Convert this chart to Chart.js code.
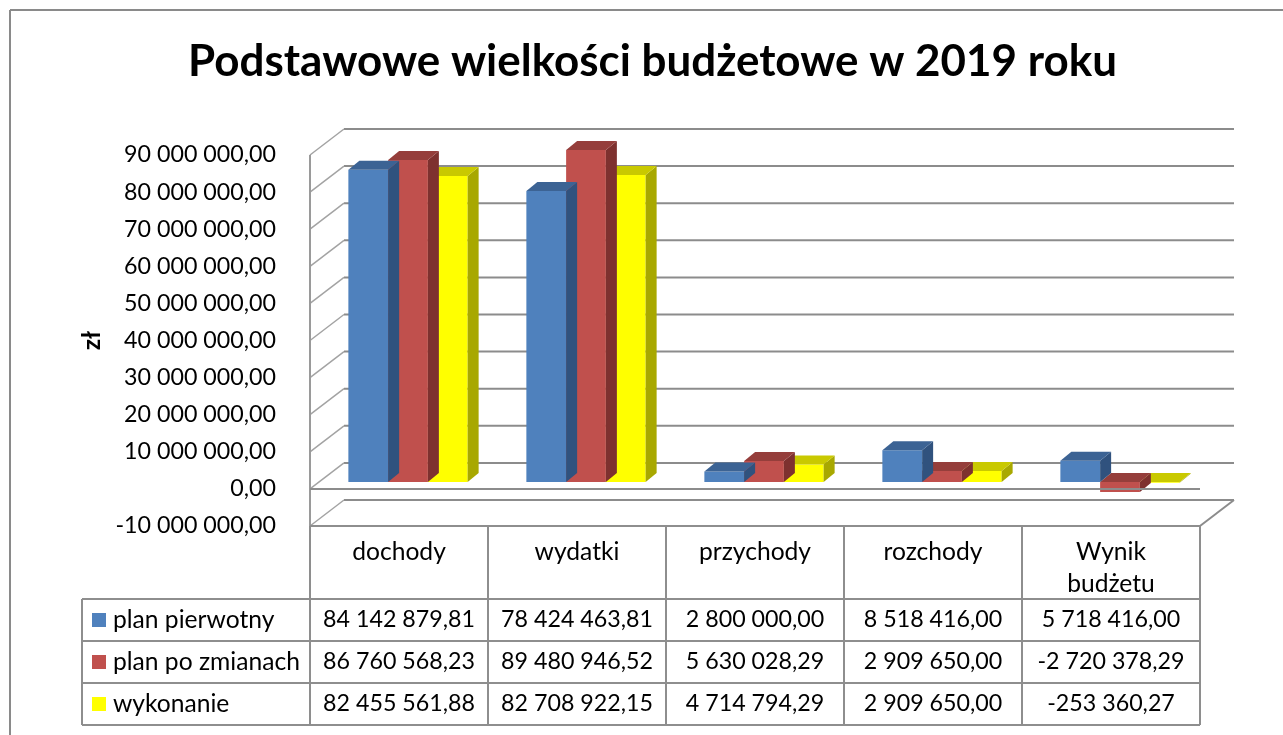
<!DOCTYPE html>
<html><head><meta charset="utf-8">
<script src="https://cdn.jsdelivr.net/npm/chart.js@4.4.1/dist/chart.umd.min.js"></script>
<style>html,body{margin:0;padding:0;background:#fff;overflow:hidden}#wrap{position:relative;width:1283px;height:735px}</style>
</head><body><div id="wrap"><canvas id="c" width="1283" height="735"></canvas></div>
<script>
// ---------- data ----------
const categories = ['dochody', 'wydatki', 'przychody', 'rozchody', 'Wynik budżetu'];
const categoryLines = [['dochody'], ['wydatki'], ['przychody'], ['rozchody'], ['Wynik', 'budżetu']];
const seriesNames = ['plan pierwotny', 'plan po zmianach', 'wykonanie'];
const planPierwotny = [84142879.81, 78424463.81, 2800000.00, 8518416.00, 5718416.00];
const planPoZmianach = [86760568.23, 89480946.52, 5630028.29, 2909650.00, -2720378.29];
const wykonanie = [82455561.88, 82708922.15, 4714794.29, 2909650.00, -253360.27];
const yTickValues = [-10000000, 0, 10000000, 20000000, 30000000, 40000000, 50000000, 60000000, 70000000, 80000000, 90000000];
const chartTitle = 'Podstawowe wielkości budżetowe w 2019 roku';
const yAxisTitle = 'zł';

// ---------- styles ----------
const FAMILY = "Lato, 'Open Sans', sans-serif";
const frontColors = ['#4F81BD', '#C0504D', '#FFFF00'];
const topColors = ['#3C6394', '#953E3B', '#C9C900'];
const sideColors = ['#30527E', '#7E312F', '#A8A800'];
const GRID = '#8c8c8c';
const FRONT = { dx: -9, dy: 7 };   // front plane offset from bar plane
const BACK = { dx: 25, dy: -19 };  // back plane offset from bar plane
const BAR_D = { dx: 11, dy: 9 };   // bar depth

const mctx = document.createElement('canvas').getContext('2d');
function fitSize(text, weight, target) {
  mctx.font = weight + ' 100px ' + FAMILY;
  return target * 100 / mctx.measureText(text).width;
}
const titleSize = fitSize(chartTitle, 'bold', 929);
const textSize = fitSize('90 000 000,00', 'normal', 152);
const wordSize = fitSize('plan po zmianach', 'normal', 187);

function fmt(v) {
  const neg = v < 0;
  let [i, d] = Math.abs(v).toFixed(2).split('.');
  i = i.replace(/\B(?=(\d{3})+(?!\d))/g, ' ');
  return (neg ? '-' : '') + i + ',' + d;
}

const seriesData = [planPierwotny, planPoZmianach, wykonanie];

function poly(ctx, pts, fill) {
  ctx.beginPath();
  ctx.moveTo(pts[0][0], pts[0][1]);
  for (let k = 1; k < pts.length; k++) ctx.lineTo(pts[k][0], pts[k][1]);
  ctx.closePath();
  ctx.fillStyle = fill;
  ctx.fill();
}
function line(ctx, x1, y1, x2, y2, color, w) {
  ctx.beginPath();
  ctx.moveTo(x1, y1); ctx.lineTo(x2, y2);
  ctx.strokeStyle = color; ctx.lineWidth = w; ctx.stroke();
}

const threeD = {
  id: 'threeD',
  beforeDatasetsDraw(chart) {
    const ctx = chart.ctx, ys = chart.scales.y, ca = chart.chartArea;
    ctx.save();
    const fl = ca.left + FRONT.dx, bl = ca.left + BACK.dx, br = ca.right + BACK.dx;
    yTickValues.forEach(v => {
      const py = ys.getPixelForValue(v);
      line(ctx, bl, py + BACK.dy, br, py + BACK.dy, GRID, 2);
      line(ctx, fl, py + FRONT.dy, bl, py + BACK.dy, '#a3a3a3', 1.5);
    });
    const top = ys.getPixelForValue(yTickValues[yTickValues.length - 1]) + FRONT.dy;
    const bot = ys.getPixelForValue(yTickValues[0]) + FRONT.dy;
    line(ctx, fl, top, fl, bot, '#9a9a9a', 2);
    line(ctx, ca.right + FRONT.dx, bot, br, ys.getPixelForValue(yTickValues[0]) + BACK.dy, '#8c8c8c', 2);
    ctx.restore();
  },
  afterDatasetDraw(chart, args) {
    const ctx = chart.ctx, i = args.index;
    const meta = chart.getDatasetMeta(i);
    ctx.save();
    meta.data.forEach(el => {
      const p = el.getProps(['x', 'y', 'base', 'width'], true);
      const L = p.x - p.width / 2, R = p.x + p.width / 2;
      const t = Math.min(p.y, p.base), b = Math.max(p.y, p.base);
      const dx = BAR_D.dx, dy = BAR_D.dy;
      poly(ctx, [[R, t], [R + dx, t - dy], [R + dx, b - dy], [R, b]], sideColors[i]);
      poly(ctx, [[L, t], [R, t], [R + dx, t - dy], [L + dx, t - dy]], topColors[i]);
    });
    ctx.restore();
  },
  afterDatasetsDraw(chart) {
    const ctx = chart.ctx, ys = chart.scales.y, ca = chart.chartArea;
    ctx.save();
    const y0 = ys.getPixelForValue(0) + FRONT.dy;
    line(ctx, ca.left + FRONT.dx, y0, ca.right + FRONT.dx, y0, GRID, 2);
    ctx.restore();
  },
  afterDraw(chart) {
    const ctx = chart.ctx, xs = chart.scales.x, ys = chart.scales.y;
    ctx.save();
    const catW = xs.getPixelForValue(1) - xs.getPixelForValue(0);
    const colL = i => xs.getPixelForValue(i) - catW / 2 + FRONT.dx;
    const tableL = 82;
    const tTop = ys.getPixelForValue(yTickValues[0]) + FRONT.dy;
    const hdrB = tTop + 73, rowH = 42;
    const right = colL(categories.length);
    const C = '#8e8e8e';
    line(ctx, colL(0), tTop, right, tTop, C, 2);
    for (let r = 0; r <= seriesNames.length; r++) {
      const yy = hdrB + r * rowH;
      line(ctx, tableL, yy, right, yy, C, 2);
    }
    const tBot = hdrB + seriesNames.length * rowH;
    for (let c = 0; c <= categories.length; c++) line(ctx, colL(c), tTop, colL(c), tBot, C, 2);
    line(ctx, tableL, hdrB, tableL, tBot, C, 2);
    // header text
    ctx.fillStyle = '#000';
    ctx.font = 'normal ' + wordSize + 'px ' + FAMILY;
    ctx.textAlign = 'center'; ctx.textBaseline = 'middle';
    categoryLines.forEach((lines, c) => {
      const cx = colL(c) + catW / 2;
      lines.forEach((s, k) => ctx.fillText(s, cx, tTop + 26 + k * 32));
    });
    // rows
    seriesNames.forEach((name, r) => {
      const cy = hdrB + r * rowH + rowH / 2;
      ctx.fillStyle = frontColors[r];
      ctx.fillRect(92, cy - 7, 14, 14);
      ctx.fillStyle = '#000';
      ctx.textAlign = 'left';
      ctx.font = 'normal ' + wordSize + 'px ' + FAMILY;
      ctx.fillText(name, 113, cy);
      ctx.textAlign = 'center';
      ctx.font = 'normal ' + textSize + 'px ' + FAMILY;
      seriesData[r].forEach((v, c) => ctx.fillText(fmt(v), colL(c) + catW / 2, cy));
    });
    // y-axis title
    ctx.save();
    ctx.font = 'bold ' + wordSize + 'px ' + FAMILY;
    const midY = (ys.getPixelForValue(yTickValues[0]) + ys.getPixelForValue(yTickValues[yTickValues.length - 1])) / 2 + FRONT.dy;
    ctx.translate(92, midY);
    ctx.rotate(-Math.PI / 2);
    ctx.textAlign = 'center'; ctx.textBaseline = 'middle';
    ctx.fillText(yAxisTitle, 0, 0);
    ctx.restore();
    // outer frame
    line(ctx, 10, 10, 10, 735, '#8a8a8a', 2);
    line(ctx, 10, 10, 1283, 10, '#8a8a8a', 2);
    ctx.restore();
  }
};

new Chart(document.getElementById('c'), {
  type: 'bar',
  data: {
    labels: categories,
    datasets: seriesNames.map((n, i) => ({
      label: n,
      data: seriesData[i],
      backgroundColor: frontColors[i],
      borderWidth: 0,
      categoryPercentage: 0.67,
      barPercentage: 1.0
    }))
  },
  options: {
    responsive: false,
    animation: false,
    devicePixelRatio: 1,
    layout: { padding: { left: 22, top: 0, right: 0, bottom: 216 } },
    plugins: {
      legend: { display: false },
      tooltip: { enabled: false },
      title: {
        display: true,
        text: chartTitle,
        color: '#000',
        font: { family: FAMILY, size: titleSize, weight: 'bold', lineHeight: 1 },
        padding: { top: 62 - titleSize / 2, bottom: 86 - titleSize / 2 }
      }
    },
    scales: {
      x: { display: false },
      y: {
        min: -10000000, max: 90000000,
        afterFit(s) { s.width = 297; },
        afterBuildTicks(s) { s.ticks = yTickValues.map(v => ({ value: v })); },
        grid: { display: false },
        border: { display: false },
        ticks: {
          padding: 35, labelOffset: 7, color: '#000',
          font: { family: FAMILY, size: textSize },
          callback: v => fmt(v)
        }
      },
      y2: {
        position: 'right', display: true,
        afterFit(s) { s.width = 74; },
        grid: { display: false }, border: { display: false },
        ticks: { display: false }
      }
    }
  },
  plugins: [threeD]
});
</script>
</body></html>
